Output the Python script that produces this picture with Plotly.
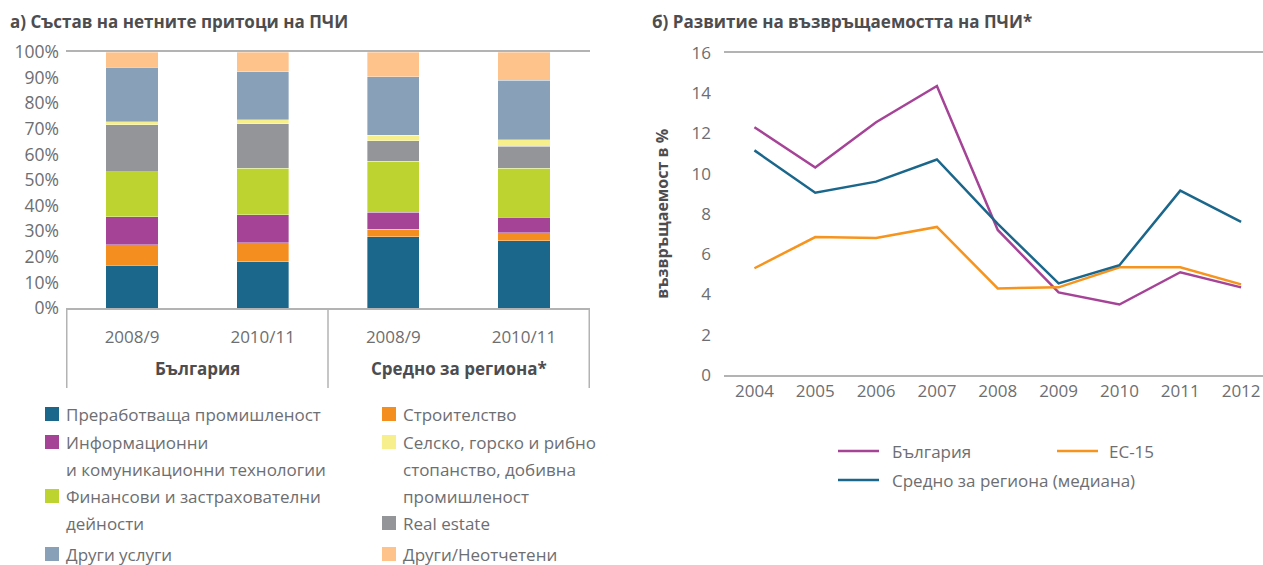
import plotly.graph_objects as go

W, H = 1263, 565

# ---------------- data ----------------
groups = ["България", "България", "Средно за региона*", "Средно за региона*"]
periods = ["2008/9", "2010/11", "2008/9", "2010/11"]
group_labels = ["България", "Средно за региона*"]

sector_names = [
    "Преработваща промишленост",
    "Строителство",
    "Информационни и комуникационни технологии",
    "Финансови и застрахователни дейности",
    "Real estate",
    "Селско, горско и рибно стопанство, добивна промишленост",
    "Други услуги",
    "Други/Неотчетени",
]
manufacturing = [16.7, 18.0, 27.8, 26.2]
construction = [8.1, 7.5, 3.0, 3.2]
ict = [10.8, 10.9, 6.7, 6.0]
finance = [17.7, 18.2, 19.9, 19.2]
real_estate = [18.2, 17.4, 8.0, 8.6]
agriculture = [1.2, 1.6, 2.1, 2.6]
other_services = [21.3, 18.7, 22.8, 23.2]
other_unreported = [6.0, 7.7, 9.7, 11.0]
sector_values = [manufacturing, construction, ict, finance, real_estate,
                 agriculture, other_services, other_unreported]
sector_colors = ["#1b678c", "#f48e1f", "#a54497", "#bcd330",
                 "#949598", "#f6ef8c", "#88a1b9", "#fdc38b"]

years = ["2004", "2005", "2006", "2007", "2008", "2009", "2010", "2011", "2012"]
bulgaria = [12.3, 10.3, 12.55, 14.35, 7.2, 4.1, 3.5, 5.1, 4.35]
eu15 = [5.3, 6.85, 6.8, 7.35, 4.3, 4.35, 5.35, 5.35, 4.5]
region_median = [11.15, 9.05, 9.6, 10.7, 7.5, 4.55, 5.45, 9.15, 7.6]
line_names = ["България", "ЕС-15", "Средно за региона (медиана)"]
line_colors = ["#a54497", "#f7941d", "#1b678c"]

FONT = "Open Sans"
GRAY = "#6d6e71"
DARK = "#4d4d4f"
AXC = "#b3b3b3"
FS = 17


def px(x):
    return x / W


def py(y):
    return 1 - y / H


bar_keys = [f"{g} {p}" for g, p in zip(groups, periods)]

fig = go.Figure()

# ---------------- left: stacked bars ----------------
for name, vals, col in zip(sector_names, sector_values, sector_colors):
    fig.add_trace(go.Bar(
        x=bar_keys, y=vals, name=name,
        marker=dict(color=col, line=dict(width=0.6, color="rgba(255,255,255,0.6)")),
        xaxis="x", yaxis="y", showlegend=False))

# ---------------- right: lines ----------------
for name, vals, col in zip(line_names, [bulgaria, eu15, region_median], line_colors):
    fig.add_trace(go.Scatter(
        x=years, y=vals, name=name, mode="lines",
        line=dict(color=col, width=2.5), xaxis="x2", yaxis="y2", showlegend=False))

fig.update_layout(
    width=W, height=H, margin=dict(l=0, r=0, t=0, b=0, autoexpand=False),
    paper_bgcolor="white", plot_bgcolor="white",
    font=dict(family=FONT, color=GRAY, size=FS),
    barmode="stack", bargap=0.6,
    xaxis=dict(domain=[px(66), px(590)], type="category", automargin=False,
               tickvals=bar_keys, ticktext=periods,
               showline=True, mirror=True, linecolor=AXC, linewidth=1.5,
               tickfont=dict(size=FS, color=GRAY), ticks="", showgrid=False,
               ticklabelstandoff=13),
    yaxis=dict(domain=[py(308), py(52)], range=[0, 100], dtick=10, automargin=False,
               ticksuffix="%", showgrid=False, zeroline=False, showline=False,
               tickfont=dict(size=17.5, color=GRAY), ticklabelstandoff=6),
    xaxis2=dict(domain=[px(724), 1.0], range=[-0.5, 8.36], type="category",
                automargin=False,
                showline=True, mirror=True, linecolor=AXC, linewidth=1.5,
                showgrid=False, ticks="", tickfont=dict(size=FS, color=GRAY),
                anchor="y2"),
    yaxis2=dict(domain=[py(375), py(52.7)], range=[0, 16], dtick=2, automargin=False,
                showgrid=False, zeroline=False, showline=False,
                tickfont=dict(size=FS, color=GRAY), anchor="x2",
                ticklabelstandoff=12,
                title=dict(text="<b>възвръщаемост в %</b>",
                           font=dict(size=16, color=DARK), standoff=18)),
)


def ann(text, x, y, size=FS, color=GRAY):
    return dict(text=text, x=px(x), y=py(y), xref="paper", yref="paper",
                xanchor="left", yanchor="middle", showarrow=False,
                font=dict(size=size, color=color, family=FONT))


annotations = [
    ann("<b>а) Състав на нетните притоци на ПЧИ</b>", 8, 22, 17, DARK),
    ann("<b>б) Развитие на възвръщаемостта на ПЧИ*</b>", 650, 22, 17, DARK),
]
shapes = []

# group labels and dividers under the bar chart
for gi, gl in enumerate(group_labels):
    annotations.append(dict(text=f"<b>{gl}</b>", x=2 * gi + 0.5, xref="x",
                            y=py(368), yref="paper", xanchor="center",
                            yanchor="middle", showarrow=False,
                            font=dict(size=FS, color=DARK, family=FONT)))
for dx in [-0.5, 1.5, 3.5]:
    shapes.append(dict(type="line", xref="x", yref="paper", x0=dx, x1=dx,
                       y0=py(308), y1=py(388), line=dict(color=AXC, width=1.5)))

# left legend (two columns)
left_items = [
    (0, "Преработваща промишленост", 414),
    (2, "Информационни", 442),
    (None, "и комуникационни технологии", 469),
    (3, "Финансови и застрахователни", 496),
    (None, "дейности", 523),
    (6, "Други услуги", 554),
]
for idx, txt, yy in left_items:
    annotations.append(ann(txt, 64, yy))
    if idx is not None:
        shapes.append(dict(type="rect", xref="paper", yref="paper",
                           x0=px(45), x1=px(59), y0=py(yy + 7), y1=py(yy - 7),
                           fillcolor=sector_colors[idx], line=dict(width=0)))
right_items = [
    (1, "Строителство", 414),
    (5, "Селско, горско и рибно", 442),
    (None, "стопанство, добивна", 469),
    (None, "промишленост", 496),
    (4, "Real estate", 523),
    (7, "Други/Неотчетени", 554),
]
for idx, txt, yy in right_items:
    annotations.append(ann(txt, 401, yy))
    if idx is not None:
        shapes.append(dict(type="rect", xref="paper", yref="paper",
                           x0=px(382), x1=px(396), y0=py(yy + 7), y1=py(yy - 7),
                           fillcolor=sector_colors[idx], line=dict(width=0)))

# right legend
right_leg = [(0, 838, 890, 451), (1, 1057, 1107, 451), (2, 838, 890, 480)]
for i, lx, tx, yy in right_leg:
    shapes.append(dict(type="line", xref="paper", yref="paper",
                       x0=px(lx), x1=px(lx + 41), y0=py(yy), y1=py(yy),
                       line=dict(color=line_colors[i], width=2.5)))
    annotations.append(ann(line_names[i], tx, yy))

fig.update_layout(annotations=annotations, shapes=shapes)
fig.write_html(
    "out.html",
    config={"displayModeBar": False},
    post_script="document.body.style.margin='0';document.body.style.overflow='hidden';",
)
